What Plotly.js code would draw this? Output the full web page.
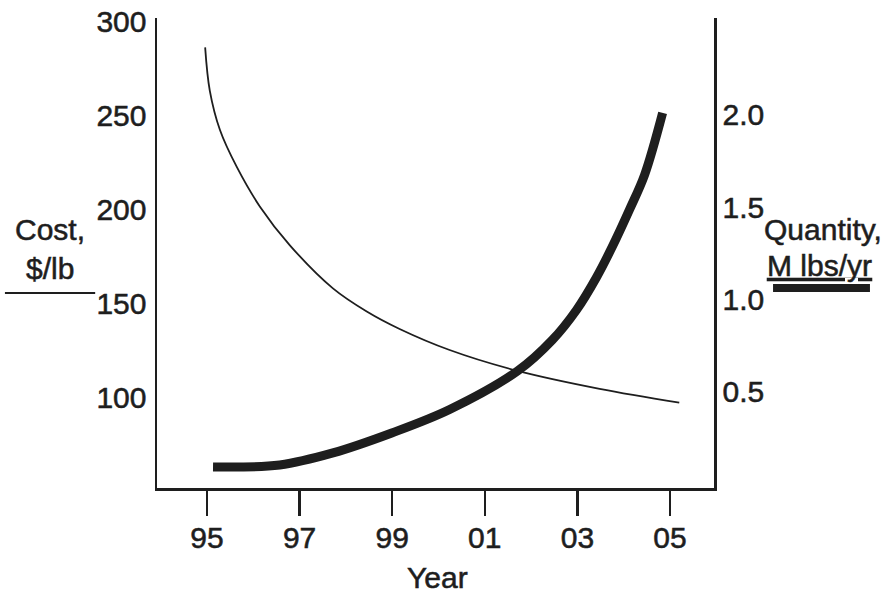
<!DOCTYPE html>
<html>
<head>
<meta charset="utf-8">
<script src="https://cdn.plot.ly/plotly-3.0.1.min.js"></script>
<style>
html,body{margin:0;padding:0;background:#fff;}
#chart{width:888px;height:593px;}
#chart svg text{stroke:#1e1e1e;stroke-width:0.55px;}
</style>
</head>
<body>
<div id="chart"></div>
<script>
// Cost, $/lb (thin line, left axis)
const costYears = [94.96, 95.06, 95.28, 95.64, 96.14, 96.79, 97.72, 98.45, 99.16, 100.24, 101.69, 103.48, 105.2];
const costValues = [286, 263, 242, 222.5, 201.4, 180.7, 157.8, 145.5, 136.2, 125, 114, 104.3, 97];

// Quantity, M lbs/yr (thick line, right axis)
const qtyYears = [95.13, 96.57, 97.72, 98.99, 100.24, 101.71, 102.46, 102.98, 103.41, 103.76, 104.13, 104.45, 104.84];
const qtyValues = [0.094, 0.105, 0.17, 0.278, 0.405, 0.614, 0.782, 0.944, 1.12, 1.29, 1.49, 1.675, 2.011];

const xTickVals = [95, 97, 99, 101, 103, 105];
const xTickText = ['95', '97', '99', '01', '03', '05'];
const costTickVals = [100, 150, 200, 250, 300];
const costTickText = ['100', '150', '200', '250', '300'];
const qtyTickVals = [0.5, 1.0, 1.5, 2.0];
const qtyTickText = ['0.5', '1.0', '1.5', '2.0'];

const INK = '#1e1e1e';
const FONT = {family: 'Liberation Sans, Arial, sans-serif', size: 30, color: INK};

const traces = [
  {x: costYears, y: costValues, type: 'scatter', mode: 'lines', name: 'Cost, $/lb',
   line: {color: INK, width: 1.8, shape: 'spline', smoothing: 1}, yaxis: 'y'},
  {x: qtyYears, y: qtyValues, type: 'scatter', mode: 'lines', name: 'Quantity, M lbs/yr',
   line: {color: INK, width: 9, shape: 'spline', smoothing: 1}, yaxis: 'y2'}
];

const layout = {
  width: 888, height: 593,
  margin: {l: 157, r: 174, t: 18, b: 105, pad: 0},
  paper_bgcolor: '#fff', plot_bgcolor: '#fff',
  showlegend: false,
  font: FONT,
  xaxis: {
    range: [93.92, 105.95], showgrid: false, zeroline: false,
    showline: true, linecolor: INK, linewidth: 2.5,
    ticks: 'outside', ticklen: 25, tickwidth: 2.5, tickcolor: INK,
    tickvals: xTickVals, ticktext: xTickText, tickfont: FONT,
    ticklabelstandoff: -4
  },
  yaxis: {
    range: [51.6, 301.6], showgrid: false, zeroline: false,
    showline: true, linecolor: INK, linewidth: 2.5,
    ticks: '', tickvals: costTickVals, ticktext: costTickText, tickfont: FONT,
    ticklabelstandoff: 2
  },
  yaxis2: {
    range: [-0.02, 2.525], overlaying: 'y', side: 'right', showgrid: false, zeroline: false,
    showline: true, linecolor: INK, linewidth: 2.5,
    ticks: '', tickvals: qtyTickVals, ticktext: qtyTickText, tickfont: FONT,
    ticklabelstandoff: 0
  },
  annotations: [
    {text: 'Cost,', xref: 'paper', yref: 'paper', x: -0.192, y: 0.549, xanchor: 'center', yanchor: 'middle', showarrow: false, font: FONT},
    {text: '$/lb', xref: 'paper', yref: 'paper', x: -0.192, y: 0.468, xanchor: 'center', yanchor: 'middle', showarrow: false, font: FONT},
    {text: 'Quantity,', xref: 'paper', yref: 'paper', x: 1.086, y: 0.549, xanchor: 'left', yanchor: 'middle', showarrow: false, font: FONT},
    {text: '<u>M lbs/yr</u>', xref: 'paper', yref: 'paper', x: 1.19, y: 0.474, xanchor: 'center', yanchor: 'middle', showarrow: false, font: FONT},
    {text: 'Year', xref: 'paper', yref: 'paper', x: 0.503, y: -0.191, xanchor: 'center', yanchor: 'middle', showarrow: false, font: FONT}
  ],
  shapes: [
    {type: 'line', xref: 'paper', yref: 'paper', x0: -0.273, x1: -0.111, y0: 0.415, y1: 0.415, line: {color: INK, width: 2}},
    {type: 'line', xref: 'paper', yref: 'paper', x0: 1.106, x1: 1.28, y0: 0.4255, y1: 0.4255, line: {color: INK, width: 8}}
  ]
};

Plotly.newPlot('chart', traces, layout, {displayModeBar: false, staticPlot: true});
</script>
</body>
</html>
